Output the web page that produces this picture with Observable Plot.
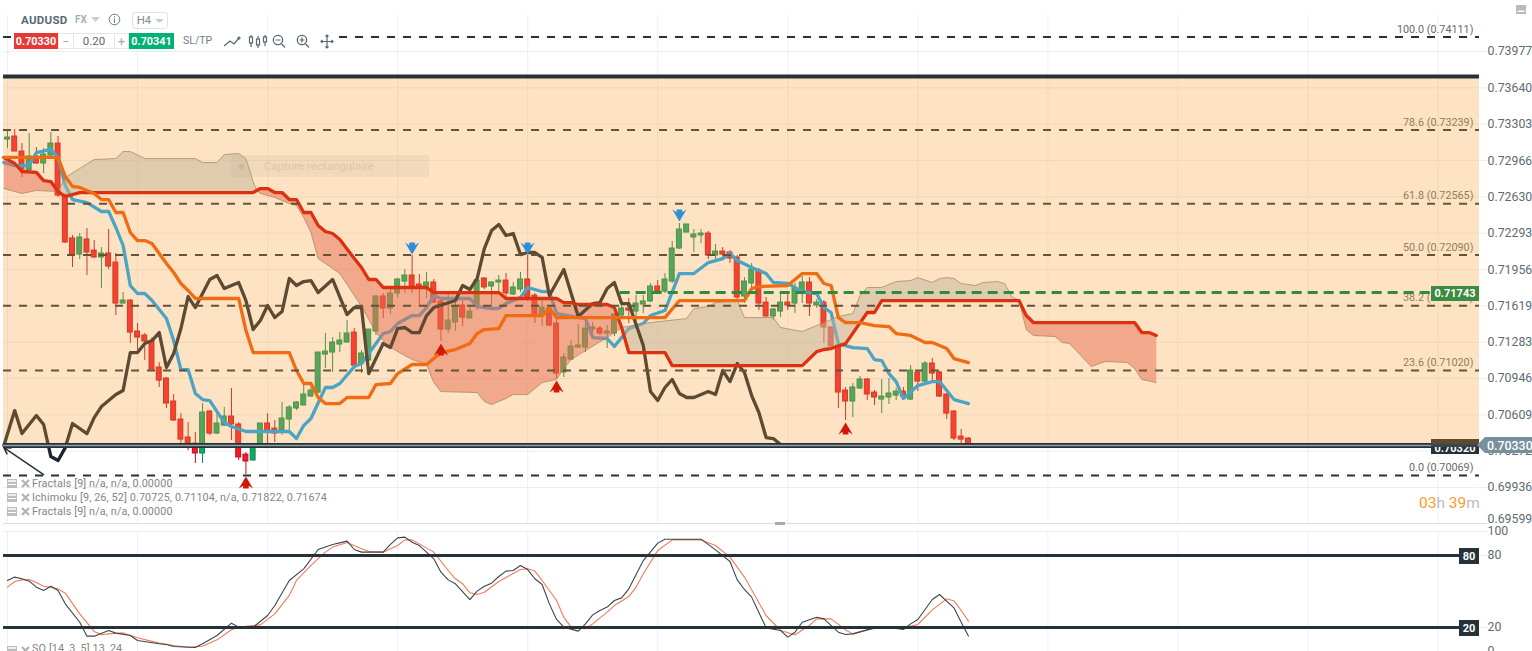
<!DOCTYPE html>
<html><head><meta charset="utf-8">
<script src="https://cdn.jsdelivr.net/npm/d3@7"></script>
<script src="https://cdn.jsdelivr.net/npm/@observablehq/plot@0.6"></script>
<style>
html,body{margin:0;padding:0;background:#fff;}
#page{position:relative;width:1532px;height:651px;overflow:hidden;font-family:Roboto,sans-serif;}
#page svg{display:block;}
.a{position:absolute;white-space:nowrap;box-sizing:border-box;}
.box{display:flex;align-items:center;justify-content:center;}
.leg{left:32px;font-size:10.8px;color:#858585;letter-spacing:.12px;line-height:14px;}
</style></head><body><div id="page"></div>
<script>
// Prices are in points (1 point = 0.00001)
const candles = [ // open, high, low, close
[73161,73236,73078,73180],[73189,73254,73050,73050],[73050,73124,72809,72883],[72874,73217,72874,73004],[73004,73087,72930,72939],
[72939,73078,72846,73022],[73013,73226,73004,73124],[73124,73189,72624,72642],[72642,72661,72197,72207],[72244,72272,71975,72086],
[72095,72290,72049,72253],[72235,72336,71901,72114],[72132,72225,72058,72068],[72068,72160,71780,72105],[72105,72327,71956,71984],
[72021,72105,71530,71641],[71641,71743,71641,71669],[71669,71678,71270,71372],[71382,71456,71205,71326],[71345,71363,71113,71289],
[71289,71326,71029,71029],[71048,71094,70863,70927],[70946,70955,70668,70714],[70733,70798,70547,70557],[70566,70621,70297,70380],
[70399,70538,70279,70325],[70343,70445,70158,70251],[70251,70714,70158,70631],[70640,70649,70418,70436],[70436,70621,70427,70529],
[70510,70677,70501,70594],[70594,70853,70371,70520],[70520,70538,70186,70214],[70241,70260,70056,70177],[70186,70306,70186,70306],
[70325,70529,70325,70529],[70529,70621,70343,70455],[70482,70557,70353,70436],[70464,70724,70418,70575],[70566,70696,70464,70677],
[70668,70733,70649,70724],[70696,70900,70696,70798],[70779,70863,70770,70835],[70816,71187,70807,71187],[71168,71363,71039,71196],
[71187,71326,71002,71280],[71261,71372,71187,71298],[71280,71484,71270,71363],[71372,71409,71057,71066],[71085,71205,70992,71178],
[71113,71400,71104,71400],[71382,71715,71345,71706],[71706,71734,71502,71595],[71595,71771,71539,71734],[71734,71873,71688,71864],
[71845,71956,71734,71901],[71901,72086,71734,71780],[71817,71910,71604,71790],[71799,71929,71688,71836],[71836,71864,71641,71650],
[71660,71669,71289,71400],[71400,71734,71363,71484],[71465,71669,71382,71613],[71623,71669,71428,71511],[71502,71604,71502,71567],
[71623,71873,71576,71854],[71873,71882,71771,71790],[71799,71845,71604,71836],[71836,71901,71752,71854],[71854,71919,71688,71734],
[71725,71836,71715,71790],[71771,71929,71743,71864],[71864,72086,71660,71697],[71715,71734,71456,71539],[71539,71678,71428,71604],
[71595,71604,71428,71437],[71456,71502,70946,70992],[71002,71178,70955,71141],[71122,71298,71113,71243],[71233,71447,71224,71252],
[71233,71502,71187,71409],[71400,71465,71317,71419],[71409,71428,71345,71363],[71363,71437,71224,71382],[71363,71548,71335,71539],
[71530,71632,71493,71595],[71595,71688,71456,71576],[71567,71715,71437,71641],[71632,71715,71548,71660],[71660,71827,71650,71799],
[71799,71854,71743,71752],[71752,71919,71734,71864],[71845,72216,71827,72151],[72151,72383,72142,72327],[72299,72374,72299,72374],
[72253,72327,72114,72281],[72272,72327,72197,72290],[72290,72309,72049,72086],[72086,72188,72040,72123],[72123,72160,72058,72095],
[72114,72132,72012,72058],[72068,72086,71669,71697],[71706,71882,71641,71845],[71827,72012,71780,71956],[71947,71966,71576,71641],
[71650,71697,71511,71521],[71521,71595,71484,71586],[71567,71734,71511,71650],[71650,71725,71576,71623],[71641,71827,71548,71780],
[71752,71892,71641,71836],[71836,71882,71521,71641],[71623,71678,71595,71650],[71650,71669,71270,71419],[71419,71428,71233,71243],
[71252,71261,70668,70816],[70835,70863,70557,70733],[70733,70900,70584,70863],[70853,70965,70844,70937],[70937,70946,70742,70798],
[70816,70835,70696,70770],[70751,70937,70621,70779],[70770,70946,70705,70807],[70788,70853,70742,70825],[70825,70863,70770,70779],
[70751,71066,70742,71020],[71002,71020,70825,70918],[70918,71104,70881,71085],[71085,71131,70927,70992],[71002,71011,70770,70779],
[70798,70807,70566,70621],[70640,70649,70371,70390],[70408,70473,70343,70380],[70390,70399,70306,70330]];

const tenkan = [[-0.5,72948],[1,72920],[3,72920],[4,73041],[6,73069],[7,72995],[8,72735],[9,72605],[11,72577],[13,72494],[14,72494],[15,72346],[16,72179],[17,71808],[18,71734],[19,71734],[20,71669],[22,71502],[23,71298],[24,71029],[25,71029],[26,70807],[27,70751],[28,70742],[30,70538],[31,70501],[33,70455],[39,70455],[40,70390],[41,70510],[42,70575],[44,70863],[45,70863],[46,70900],[48,71057],[49,71085],[52,71363],[53,71382],[54,71456],[56,71530],[57,71530],[58,71604],[59,71715],[60,71688],[64,71688],[65,71613],[67,71595],[68,71595],[69,71641],[71,71697],[72,71790],[74,71752],[75,71752],[76,71548],[80,71502],[81,71326],[83,71317],[84,71243],[86,71409],[88,71456],[89,71530],[91,71576],[93,71919],[95,71919],[97,72021],[99,72058],[100,72105],[101,72040],[103,71975],[105,71919],[106,71836],[108,71827],[110,71752],[112,71734],[113,71604],[114,71558],[115,71270],[117,71233],[119,71224],[120,71122],[121,71113],[122,70992],[123,70918],[124,70760],[126,70881],[128,70918],[129,70918],[131,70751],[133,70714]];

const kijun = [[-0.5,72995],[7,72995],[8,72818],[9,72726],[10,72717],[12,72661],[13,72605],[14,72605],[15,72485],[16,72485],[17,72299],[18,72225],[19,72225],[20,72197],[22,72012],[23,71929],[24,71827],[25,71762],[26,71688],[32,71688],[33,71391],[34,71187],[39,71187],[40,71020],[41,70900],[42,70900],[43,70770],[44,70714],[46,70714],[47,70770],[50,70770],[51,70890],[53,70900],[54,70992],[56,71076],[58,71076],[60,71187],[62,71215],[64,71270],[65,71363],[66,71400],[68,71409],[69,71530],[74,71530],[75,71595],[76,71511],[91,71511],[93,71669],[102,71669],[103,71780],[104,71799],[108,71808],[110,71919],[112,71919],[113,71827],[114,71808],[115,71511],[116,71465],[118,71465],[120,71437],[122,71428],[123,71363],[125,71345],[127,71280],[128,71280],[130,71224],[131,71131],[133,71094]];

const chikou = [[-0.5,70325],[1,70649],[2,70436],[4,70603],[5,70520],[6,70223],[7,70186],[8,70306],[9,70529],[11,70436],[12,70584],[13,70686],[15,70798],[16,70835],[17,71187],[18,71187],[19,71270],[20,71298],[21,71372],[22,71048],[23,71178],[24,71409],[25,71706],[26,71604],[28,71864],[29,71901],[30,71780],[32,71836],[33,71669],[34,71400],[35,71484],[36,71623],[37,71511],[38,71567],[39,71873],[40,71808],[41,71845],[42,71854],[43,71743],[45,71864],[47,71539],[48,71604],[49,71604],[50,70992],[52,71270],[53,71233],[54,71409],[55,71419],[56,71372],[57,71372],[58,71530],[59,71604],[62,71669],[63,71808],[64,71771],[65,71873],[66,72151],[67,72318],[68,72374],[69,72272],[70,72290],[71,72095],[72,72114],[73,72114],[74,72068],[75,71715],[77,71956],[79,71521],[81,71641],[82,71650],[83,71780],[84,71836],[85,71641],[86,71641],[88,71252],[89,70825],[90,70742],[91,70863],[92,70937],[93,70807],[94,70770],[95,70770],[97,70825],[98,70798],[99,71020],[100,70918],[101,71085],[102,71002],[103,70788],[104,70631],[105,70399],[106,70390],[107,70334]];

const senkouB = [[-0.5,72995],[1,72939],[2,72865],[4,72856],[5,72781],[6,72772],[7,72679],[8,72633],[10,72670],[34,72670],[34.5,72689],[35,72707],[36,72707],[37,72670],[38,72670],[39,72605],[40,72605],[41,72485],[42,72485],[43,72364],[44,72309],[45,72290],[46,72235],[48,72058],[49,71975],[50,71864],[51,71864],[52,71790],[58,71790],[59,71743],[68,71743],[69,71688],[76,71688],[77,71650],[78,71650],[79,71632],[83,71632],[84,71604],[85,71419],[86,71187],[91,71187],[92,71066],[110,71066],[112,71196],[113,71215],[114,71224],[116,71270],[119,71558],[120,71558],[121,71669],[140,71669],[141,71530],[142,71465],[156,71465],[157,71372],[158,71372],[159,71345]];

const senkouA = [[-0.5,72707],[2,72661],[4,72689],[7,72679],[8,72809],[10,72893],[12,72976],[15,72985],[16,73050],[17,73050],[19,72985],[26,72985],[27,72948],[29,72948],[30,73022],[32,73032],[33,72985],[34,72772],[34.5,72689],[35,72661],[37,72624],[39,72568],[40,72550],[41,72438],[42,72299],[43,72058],[45,71966],[46,71919],[48,71715],[49,71613],[50,71493],[51,71372],[52,71298],[53,71233],[56,71122],[58,71076],[59,70909],[60,70825],[65,70816],[66,70733],[67,70705],[69,70761],[70,70798],[72,70798],[74,70909],[76,70937],[77,71039],[78,71122],[80,71205],[83,71326],[85,71419],[89,71465],[94,71502],[95,71595],[97,71613],[98,71650],[101,71669],[102,71511],[106,71511],[107,71419],[110,71382],[113,71465],[115,71521],[117,71548],[118,71715],[119,71790],[121,71790],[123,71845],[125,71854],[126,71882],[128,71836],[129,71873],[130,71882],[131,71873],[132,71827],[134,71808],[135,71836],[137,71845],[138,71827],[139,71706],[140,71669],[141,71400],[142,71345],[145,71335],[146,71280],[147,71270],[150,71057],[152,71104],[155,71094],[156,71039],[157,70937],[159,70909]];

const cloudBearish = [[-0.5,7],[34.5,85],[140,159]];
const cloudBullish = [[7,34.5],[85,140]];

const fractalsDown = [[56,72151],[72,72151],[93,72457]];
const fractalsUp = [[33,69982],[60,71215],[76,70872],[116,70482]];

const priceTicks = [73977,73640,73303,72966,72630,72293,71956,71619,71283,70946,70609,70272,69936];
const lastPriceTick = [69599];
const fibLines = [74111,73249,72565,72090,71620,71020,70048];
const fibLabels = ["100.0 (0.74111)","78.6 (0.73239)","61.8 (0.72565)","50.0 (0.72090)","38.2 (0.71614)","23.6 (0.71020)","0.0 (0.70069)"];
const gridBars = [0,18,36,54,72,90,108,126,144,162,180,198];

const stochK = [[0,59.2],[1,62],[2,60.6],[3,58.6],[4,53.6],[5,50.8],[6,54.4],[7,50.8],[8,39.7],[10,24.4],[11,12.8],[12,12.8],[14,17.5],[15,15.3],[17,13.3],[18,9.2],[21,6.4],[22,5.8],[23,4.2],[26,3.3],[27,6.4],[29,13.3],[31,23.6],[32,20.3],[34,20.3],[36,30],[37,38.3],[39,59.2],[41,68.9],[43,85],[45,89.2],[47,92],[48,85],[49,82.8],[52,82.8],[53,89.2],[54,94.7],[55,95.3],[56,91.1],[57,88.3],[58,82.8],[59,77.2],[60,66.1],[61,59.7],[62,56.4],[64,43.3],[65,50.3],[66,54.4],[67,56.9],[68,62.5],[69,67],[70,67.5],[71,71.7],[72,68.3],[73,60.6],[74,55.8],[75,39.7],[76,26.7],[77,20.3],[79,17],[80,23],[81,30.5],[82,34.2],[83,37],[84,42.5],[85,44.7],[86,52.2],[88,75.8],[90,90.3],[91,93.6],[96,93.6],[98,84.7],[100,75],[101,59.7],[102,51.7],[103,45.3],[105,19.7],[107,17.5],[108,12],[109,16.1],[110,24.4],[112,28.6],[113,27.2],[115,16.1],[116,14.2],[117,14.7],[119,18],[121,20.8],[124,18.3],[125,23],[126,26.7],[128,43.3],[129,47.5],[131,36.4],[132,24.4],[133,13]];
const stochD = [[0,53.6],[1,58.3],[2,59.7],[3,60],[4,57.5],[5,54.4],[6,53.6],[7,52.2],[8,48.6],[10,31.4],[12,16.7],[13,13.9],[14,14.7],[16,15.5],[18,11.4],[21,7],[23,5],[25,3.6],[27,4.4],[29,9.7],[31,18.1],[32,20.3],[33,21.1],[35,22.2],[37,31.4],[39,46.7],[40,59.2],[42,71.7],[44,82.8],[45,87],[47,90.8],[49,85.6],[50,83.3],[52,82.8],[54,88.3],[55,93],[56,93],[57,89.7],[59,82.8],[61,67.5],[62,60.6],[63,56.4],[64,48.9],[65,47.5],[66,49.4],[68,58.3],[71,68.3],[72,68.9],[73,67],[74,59.2],[76,42.5],[77,28.6],[78,20.3],[80,18.9],[81,23],[83,32.8],[84,38.3],[86,45.8],[87,53.6],[88,64.7],[90,84.2],[92,93],[96,93],[98,88.3],[100,78.6],[102,62],[105,30],[107,17.5],[109,13.9],[111,21.7],[112,27.2],[114,27.2],[116,18],[117,14.7],[120,19.7],[124,19.7],[126,22.5],[128,34.7],[130,43.9],[131,42],[132,34.2],[133,25.3]];
const stochLevels = [80,20];
const stochTicks = [100,80,20,0];

// ---- drawing ----
const xDomain=[-0.969,203.74], xL=-0.55, xR=203.74;
const table = candles.map((c,i)=>({i,open:c[0],high:c[1],low:c[2],close:c[3],up:c[3]>=c[0]}));
const bull="#0fa86a",bullEdge="#0b8a4c",bear="#f31a2d",bearEdge="#c40c18";
const X=d=>d[0],Y=d=>d[1];
const arrow=(sign)=>({draw(ctx,size){const s=Math.sqrt(size/Math.PI)/5.5,P=[[0,-5.5],[6.5,5.5],[2.6,3],[2.6,5.5],[-2.6,5.5],[-2.6,3],[-6.5,5.5]];
  P.forEach((p,k)=>{const a=p[0]*s,b=sign*p[1]*s;k?ctx.lineTo(a,b):ctx.moveTo(a,b)});ctx.closePath();}});
const poly=(r)=>[...senkouA.filter(d=>d[0]>=r[0]&&d[0]<=r[1]),...senkouB.filter(d=>d[0]>=r[0]&&d[0]<=r[1]).reverse()];
const cloud=(regions,fill)=>regions.map(r=>Plot.line(poly(r),{x:X,y:Y,fill,fillOpacity:.5,stroke:"none"}));

const price = Plot.plot({
  width:1532,height:524,marginLeft:0,marginRight:53,marginTop:0,marginBottom:0,
  style:{fontFamily:"Roboto,sans-serif",background:"transparent"},
  x:{domain:xDomain,axis:null},
  y:{domain:[69593,74450],axis:null},
  marks:[
    Plot.ruleX(gridBars,{y1:74310,y2:69593,stroke:"#f0f0f0"}),
    Plot.ruleY(priceTicks,{x1:xL,x2:xR,stroke:"#eeeeee"}),
    Plot.axisY(priceTicks,{anchor:"right",tickSize:7,tickPadding:1,stroke:"#eeeeee",fill:"#5f6b70",fontSize:12.3,tickFormat:d=>(d/1e5).toFixed(5),label:null}),
    Plot.text(lastPriceTick,{x:xR,y:d=>d,text:d=>(d/1e5).toFixed(5),dx:8,dy:-4.5,textAnchor:"start",fill:"#5f6b70",fontSize:12.3}),
    Plot.ruleX(table,{x:"i",y1:"low",y2:"high",stroke:d=>d.up?bullEdge:bearEdge,strokeWidth:1}),
    Plot.rect(table,{x1:d=>d.i-.34,x2:d=>d.i+.34,y1:"open",y2:"close",fill:d=>d.up?bull:bear,stroke:d=>d.up?bullEdge:bearEdge,strokeWidth:1}),
    Plot.line(tenkan,{x:X,y:Y,stroke:"#00a5ff",strokeWidth:3.3}),
    ...cloud(cloudBearish,"#e1575d"),
    ...cloud(cloudBullish,"#adbbc5"),
    Plot.line(senkouA,{x:X,y:Y,stroke:"#7f7468",strokeWidth:1,strokeOpacity:.7}),
    Plot.line(chikou,{x:X,y:Y,stroke:"#1a2530",strokeWidth:3.3}),
    Plot.line(senkouB,{x:X,y:Y,stroke:"#d00000",strokeWidth:3.3}),
    Plot.line(kijun,{x:X,y:Y,stroke:"#ec5400",strokeWidth:3.3}),
    Plot.ruleY(fibLines,{x1:xL,x2:xR,stroke:"#263238",strokeWidth:2,strokeDasharray:"8,8"}),
    Plot.text(fibLines.map((v,k)=>({v,t:fibLabels[k]})),{x:202.9,y:"v",text:"t",textAnchor:"end",dy:-8,fontSize:10.8,fill:"#6a6a6a"}),
    Plot.arrow([{x1:5,y1:70056,x2:-0.5,y2:70306}],{x1:"x1",y1:"y1",x2:"x2",y2:"y2",stroke:"#263238",strokeWidth:1.5,headLength:7,insetEnd:0,insetStart:0}),
    // orange translucent zone over everything beneath
    Plot.rect([{}],{x1:xL,x2:xR,y1:70325,y2:73727,fill:"rgb(248,162,55)",fillOpacity:.3}),
    Plot.ruleY([73745],{x1:xL,x2:xR,stroke:"#263238",strokeWidth:4}),
    Plot.ruleY([70325],{x1:xL,x2:xR,stroke:"#263238",strokeWidth:5}),
    Plot.ruleY([70325],{x1:xL,x2:xR,stroke:"#8fa3ad",strokeWidth:1.5}),
    Plot.ruleY([71743],{x1:84.8,x2:xR,stroke:"#2e8b3d",strokeWidth:3,strokeDasharray:"10,6"}),
    Plot.dot(fractalsDown,{x:X,y:Y,symbol:arrow(-1),r:6,fill:"#2f8fd6",stroke:"none"}),
    Plot.dot(fractalsUp,{x:X,y:Y,symbol:arrow(1),r:6,fill:"#d11a06",stroke:"none"})
  ]
});

const stoch = Plot.plot({
  width:1532,height:127,marginLeft:0,marginRight:53,marginTop:7,marginBottom:0,
  style:{fontFamily:"Roboto,sans-serif",background:"transparent",overflow:"hidden"},
  x:{domain:xDomain,axis:null},
  y:{domain:[0,100],axis:null},
  marks:[
    Plot.ruleX(gridBars,{stroke:"#f0f0f0"}),
    Plot.ruleY([100,0],{x1:xL,x2:xR,stroke:"#eeeeee"}),
    Plot.axisY(stochTicks,{anchor:"right",tickSize:7,tickPadding:1,stroke:"#eeeeee",fill:"#5f6b70",fontSize:12.3,label:null}),
    Plot.line(stochD,{x:X,y:Y,stroke:"#f4795b",strokeWidth:1.1}),
    Plot.line(stochK,{x:X,y:Y,stroke:"#37474f",strokeWidth:1.1}),
    Plot.ruleY(stochLevels,{x1:xL,x2:xR,stroke:"#263238",strokeWidth:3})
  ]
});

const page=document.getElementById("page");
page.append(price,stoch);

const tick=`<svg width="11" height="9" viewBox="0 0 11 9"><rect x="0" y="0" width="10" height="9" fill="#bdbdbd"/><rect x="1" y="1" width="8" height="2" fill="#eee"/><rect x="1" y="5" width="8" height="1" fill="#fff"/></svg>`;
const xmk=`<svg width="9" height="9" viewBox="0 0 9 9"><path d="M1 1L8 8M8 1L1 8" stroke="#b3b3b3" stroke-width="2.2"/></svg>`;
const overlay=`
<div class="a" style="left:3px;top:0;width:1484px;height:524px;border-bottom:1px solid #dcdcdc;pointer-events:none"></div>
<div class="a" style="left:775px;top:522px;width:10px;height:3px;background:#aaa"></div>

<div class="a" style="left:21px;top:13px;font-size:11.5px;font-weight:700;color:#566a75;letter-spacing:.3px">AUDUSD</div>
<div class="a" style="left:75px;top:14px;font-size:10px;font-weight:700;color:#a5b0b6">FX</div>
<svg class="a" style="left:91px;top:17px" width="10" height="5"><path d="M0 0H9L4.5 5Z" fill="#c9ced1"/></svg>
<svg class="a" style="left:108px;top:13px" width="13" height="13"><circle cx="6.5" cy="6.5" r="5.3" fill="none" stroke="#607d8b"/><rect x="6" y="5.5" width="1" height="4.3" fill="#607d8b"/><rect x="6" y="3.2" width="1" height="1.2" fill="#607d8b"/></svg>
<div class="a box" style="left:132px;top:12px;width:36px;height:17px;border:1px solid #e3e3e3;border-radius:3px;font-size:11px;color:#7b8a92;justify-content:flex-start;padding-left:4px">H4</div>
<svg class="a" style="left:155px;top:19px" width="9" height="4"><path d="M0 0H9L4.5 4Z" fill="#c9ced1"/></svg>

<div class="a" style="left:14px;top:33px;width:324px;height:16px;background:#fff"></div>
<div class="a box" style="left:14px;top:33px;width:44px;height:16px;background:#e53935;color:#fff;font-size:10.8px;font-weight:700">0.70330</div>
<div class="a box" style="left:58px;top:33px;width:16px;height:16px;border:1px solid #e6e6e6;color:#aaa;font-size:13px">−</div>
<div class="a box" style="left:74px;top:33px;width:40px;height:16px;border-top:1px solid #e6e6e6;border-bottom:1px solid #e6e6e6;color:#666;font-size:11.5px">0.20</div>
<div class="a box" style="left:114px;top:33px;width:15px;height:16px;border:1px solid #e6e6e6;color:#aaa;font-size:13px">+</div>
<div class="a box" style="left:129px;top:33px;width:45px;height:16px;background:#00b276;color:#fff;font-size:10.8px;font-weight:700">0.70341</div>
<div class="a" style="left:183px;top:34px;font-size:10.5px;color:#6f7f88">SL/TP</div>
<svg class="a" style="left:222px;top:33px" width="120" height="18" fill="none" stroke="#55666f" stroke-width="1.2">
 <path d="M2 13L8 8L12 11L17 5" /><circle cx="17" cy="5" r="1"/>
 <path d="M29 2V14M36 3V15M43 2V13"/><rect x="27.5" y="4" width="3" height="6" fill="#fff"/><rect x="34.5" y="6" width="3" height="6" fill="#fff"/><rect x="41.5" y="4" width="3" height="5" fill="#fff"/>
 <circle cx="56" cy="7" r="4.7"/><path d="M53.5 7H58.5M59.5 11L63 14.5"/>
 <circle cx="80" cy="7" r="4.7"/><path d="M77.5 7H82.5M80 4.5V9.5M83.5 11L87 14.5"/>
 <path d="M105 2V15M99 8.5H111M103.5 3.5L105 2L106.5 3.5M103.5 13.5L105 15L106.5 13.5M100.5 7L99 8.5L100.5 10M109.5 7L111 8.5L109.5 10"/>
</svg>

<div class="a" style="left:231px;top:155px;width:198px;height:22px;background:rgba(190,170,150,.17)"></div>
<div class="a" style="left:264px;top:159px;font-size:11.5px;color:#dcc6a9">Capture rectangulaire</div>
<div class="a" style="left:239px;top:164px;width:5px;height:5px;border-radius:50%;background:#cdb597"></div>

<svg class="a" style="left:1516px;top:5px" width="11" height="9"><rect width="10" height="9" fill="#b5bcc0"/><rect x="1.5" y="5.5" width="7" height="1.5" fill="#fff"/></svg>

<div class="a box" style="left:1431px;top:286px;width:48px;height:15px;background:#3d8b40;color:#fff;font-size:11px;font-weight:700">0.71743</div>

<div class="a box" style="left:1431px;top:440px;width:48px;height:14px;background:#263238;color:#fff;font-size:11px;font-weight:700;padding-top:2px">0.70320</div>
<div class="a" style="left:1431px;top:439px;width:48px;height:5px;background:#5d4a30"></div>
<div class="a" style="left:1431px;top:443.5px;width:48px;height:3px;background:#37474f"></div>
<div class="a box" style="left:1477px;top:437px;width:55px;height:16px;background:#78909c;color:#fff;font-size:12.4px;font-weight:500;clip-path:polygon(0 50%,8px 0,100% 0,100% 100%,8px 100%);justify-content:flex-start;padding-left:10px">0.70330</div>

<div class="a leg" style="top:477px">Fractals [9] n/a, n/a, 0.00000</div>
<div class="a leg" style="top:491px">Ichimoku [9, 26, 52] 0.70725, 0.71104, n/a, 0.71822, 0.71674</div>
<div class="a leg" style="top:505px">Fractals [9] n/a, n/a, 0.00000</div>
${[479,493,507].map(t=>`<div class="a" style="left:7px;top:${t}px">${tick}</div><div class="a" style="left:21px;top:${t}px">${xmk}</div>`).join("")}
<div class="a" style="left:1419px;top:494px;font-size:15.5px;color:#ff9a1f;width:60px;text-align:right">03<span style="color:#bcbcbc">h</span> 39<span style="color:#bcbcbc">m</span></div>

<div class="a box" style="left:1459px;top:548px;width:20px;height:16px;background:#263238;color:#fff;font-size:11px;font-weight:700">80</div>
<div class="a box" style="left:1459px;top:620px;width:20px;height:16px;background:#263238;color:#fff;font-size:11px;font-weight:700">20</div>
<div class="a leg" style="top:642px">SO [14, 3, 5] 13, 24</div>
<div class="a" style="left:7px;top:646px">${tick}</div><div class="a" style="left:21px;top:646px">${xmk}</div>
`;
page.insertAdjacentHTML("beforeend",overlay);
</script></body></html>
